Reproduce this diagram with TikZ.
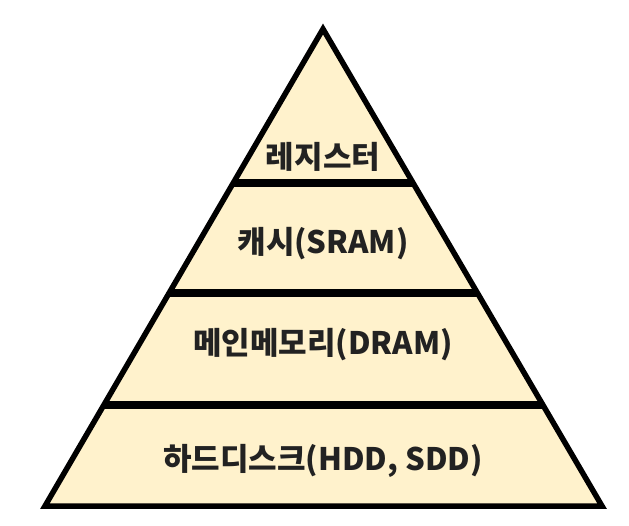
\documentclass[tikz,border=0pt]{standalone}
\usepackage{fontspec}
\newfontfamily\krfont{Noto Sans CJK KR}
\usepackage{xcolor}
\usetikzlibrary{calc}
\definecolor{layerfill}{HTML}{FFF2CC}
\definecolor{labeltext}{HTML}{222222}

\begin{document}
\begin{tikzpicture}[
  x=1pt, y=-1pt,
  outline/.style={line width=5.5pt, black, line join=miter},
  divider/.style={line width=7.5pt, black},
  layer/.style={font=\krfont\bfseries\fontsize{31}{36}\selectfont,
                text=labeltext, inner sep=0pt}]
\useasboundingbox (0,0) rectangle (629,526);

% ---- the pyramid -------------------------------------------------------
\coordinate (apex) at (323,29);
\coordinate (bl)   at (45,506);
\coordinate (br)   at (602,506);
\filldraw[outline, fill=layerfill] (apex)--(bl)--(br)--cycle;

% ---- dividers between the four levels ----------------------------------
\foreach \t/\nm in {0.3229/one,0.5535/two,0.7883/three}{
  \coordinate (l\nm) at ($(apex)!\t!(bl)$);
  \coordinate (r\nm) at ($(apex)!\t!(br)$);
  \draw[divider] (l\nm)--(r\nm);}

% ---- level labels -------------------------------------------------------
\node[layer] (reg)  at (323,157) {레지스터};
\node[layer] (sram) at (323,244) {캐시(SRAM)};
\node[layer] (dram) at (323,345) {메인메모리(DRAM)};
\node[layer] (disk) at (323,461) {하드디스크(HDD, SDD)};
\end{tikzpicture}
\end{document}
